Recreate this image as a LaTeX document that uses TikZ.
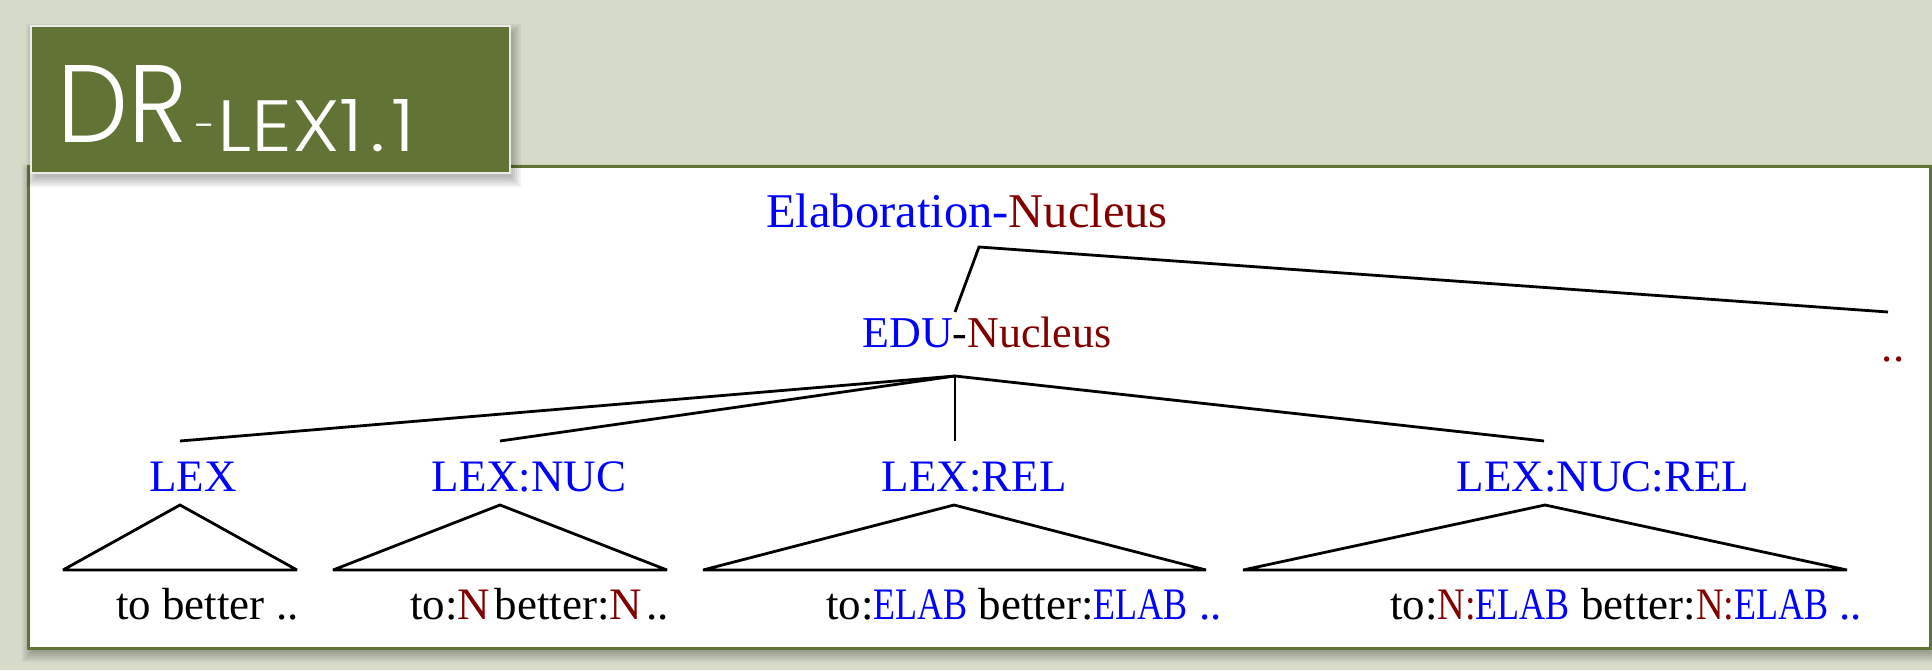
\documentclass[tikz,border=0pt]{standalone}
\usepackage{fontspec}
\usepackage{graphicx}
\setmainfont{Liberation Serif}
\newfontfamily\titlefont{Poppins Light}
\definecolor{pagebg}{RGB}{214,219,201}
\definecolor{olive}{RGB}{98,115,54}
\definecolor{relblue}{RGB}{0,0,255}
\definecolor{nucred}{RGB}{128,0,0}
\newcommand{\nuc}[1]{\textcolor{nucred}{#1}}
\newcommand{\rel}[1]{\textcolor{relblue}{#1}}
% narrow tags inside the leaf strings
\newcommand{\narrowtag}[2]{\scalebox{#1}[1]{#2}}

\begin{document}
\begin{tikzpicture}[x=1pt,y=-1pt,
  treeline/.style={line width=2.8pt, black},
  subtree/.style={treeline, line join=miter, miter limit=3},
  catlabel/.style={anchor=base, inner sep=0pt, text=relblue,
                   font=\fontsize{45}{45}\selectfont},
  leaftext/.style={anchor=base west, inner sep=0pt,
                   font=\fontsize{45}{45}\selectfont},
  titletext/.style={inner sep=0pt, text=white, font=\titlefont\fontsize{100}{100}\selectfont},
  softshadow/.style={fill=black, opacity=0.05}]

% page
\fill[pagebg] (0,0) rectangle (1932,670);
\useasboundingbox (0,0) rectangle (1932,670);

% panel with its shadow
\foreach \r in {-2,0,...,8}
  \fill[softshadow] (28+2-\r,166+6-\r) rectangle (1930+2+\r,648+6+\r);
\draw[fill=white, draw=olive, line width=3pt] (28,166) rectangle (1930,648);

% title box with its shadow
\foreach \r in {-2,0,...,8}
  \fill[softshadow] (31+3-\r,26+6-\r) rectangle (510+3+\r,173+6+\r);
\draw[fill=olive, draw=white!92!black, line width=1.6pt] (31,26) rectangle (510,173);
\node[titletext, anchor=base west] (titleA) at (57,142) {\resizebox{130pt}{77pt}{DR}};
\node[titletext, anchor=center] (titleDash) at (205,132) {\resizebox{20pt}{!}{-}};
\node[titletext, anchor=base west] (titleB) at (217,151)
  {\resizebox{198pt}{52pt}{LEX1\kern0.08em.\kern0.08em1}};

% upper tree
\node[anchor=base, inner sep=0pt, font=\fontsize{48.5}{48.5}\selectfont]
  (elab) at (967,227) {\rel{Elaboration-}\nuc{Nucleus}};
\node[anchor=base, inner sep=0pt, font=\fontsize{44}{44}\selectfont]
  (edu) at (987,347) {\rel{EDU}-\nuc{Nucleus}};
\node[anchor=base, inner sep=0pt, text=nucred, font=\fontsize{45}{45}\selectfont]
  (more) at (1893,361) {..};

\coordinate (elabApex) at (979,247);
\coordinate (eduTop)   at (955,312);
\coordinate (moreTop)  at (1888,312);
\draw[treeline] (eduTop) -- (elabApex) -- (moreTop);

% lower tree
\coordinate (eduApex) at (955,376);
\coordinate (lexTop)  at (180,441);
\coordinate (nucTop)  at (500,441);
\coordinate (relTop)  at (955,441);
\coordinate (nrTop)   at (1544,441);
\draw[treeline] (eduApex) -- (lexTop);
\draw[treeline] (eduApex) -- (nucTop);
\draw[treeline] (eduApex) -- (relTop);
\draw[treeline] (eduApex) -- (nrTop);

\node[catlabel] (lex)   at (193,491)  {LEX};
\node[catlabel] (lexn)  at (529,491)  {LEX:NUC};
\node[catlabel] (lexr)  at (974,491)  {LEX:REL};
\node[catlabel] (lexnr) at (1603,491) {LEX:NUC:REL};

% collapsed subtrees
\draw[subtree] (63,570)   -- (180,505)  -- (297,570)  -- cycle;
\draw[subtree] (333,570)  -- (500,505)  -- (667,570)  -- cycle;
\draw[subtree] (703,570)  -- (954,505)  -- (1206,570) -- cycle;
\draw[subtree] (1243,570) -- (1545,505) -- (1847,570) -- cycle;

% leaf strings
\node[leaftext] (leafA) at (116,619) {to better ..};
\node[leaftext] (leafB) at (410,619)
  {to:\nuc{N}\kern0.1em better:\nuc{N}\kern0.1em ..};
\node[leaftext] (leafC) at (826,619)
  {to:\rel{\narrowtag{0.8}{ELAB}} better:\rel{\narrowtag{0.8}{ELAB} ..}};
\node[leaftext] (leafD) at (1390,619)
  {to:\nuc{\narrowtag{0.85}{N:}}\rel{\narrowtag{0.8}{ELAB}} better:\nuc{\narrowtag{0.85}{N:}}\rel{\narrowtag{0.8}{ELAB} ..}};
\end{tikzpicture}
\end{document}
